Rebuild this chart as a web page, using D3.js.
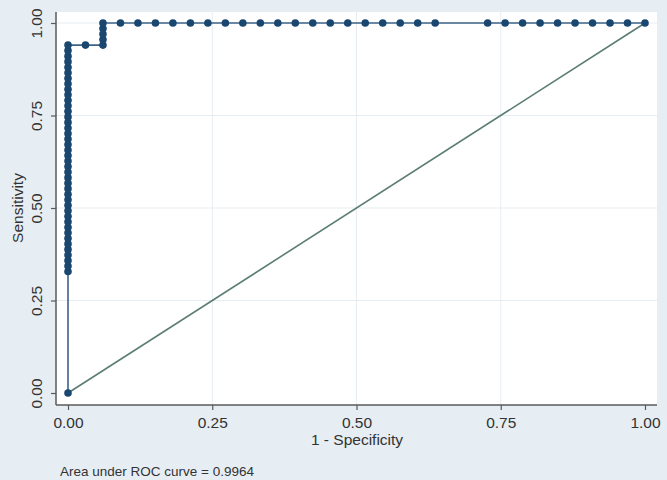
<!DOCTYPE html>
<html>
<head>
<meta charset="utf-8">
<script src="https://cdn.jsdelivr.net/npm/d3@7"></script>
<style>
  html, body { margin: 0; padding: 0; background: #e8eff4; }
  svg { display: block; }
  text { font-family: "Liberation Sans", Arial, sans-serif; }
</style>
</head>
<body>
<svg id="chart" width="667" height="480"></svg>
<script>
// ---- Data ----
// Counts of false positives (out of 33 negatives) and true positives (out of 67 positives) at each cutoff
const nNegatives = 33;
const nPositives = 67;
const falsePosCounts = [
  0,
  0,0,0,0,0,0,0,0,0,0,0,0,0,0,0,0,0,0,0,0,0,0,0,0,0,0,0,0,0,0,0,0,0,0,0,0,0,0,0,0,0,0,
  1,
  2,2,2,2,2,
  3,4,5,6,7,8,9,10,11,12,13,14,15,16,17,18,19,20,21,
  24,25,26,27,28,29,30,31,32,33
];
const truePosCounts = [
  0,
  22,23,24,25,26,27,28,29,30,31,32,33,34,35,36,37,38,39,40,41,42,43,44,45,46,47,48,49,50,51,52,53,54,55,56,57,58,59,60,61,62,63,
  63,
  63,64,65,66,67,
  67,67,67,67,67,67,67,67,67,67,67,67,67,67,67,67,67,67,67,
  67,67,67,67,67,67,67,67,67,67
];
const xTickValues = [0, 0.25, 0.5, 0.75, 1];
const yTickValues = [0, 0.25, 0.5, 0.75, 1];
const xTitle = "1 - Specificity";
const yTitle = "Sensitivity";
const noteText = "Area under ROC curve = 0.9964";

const points = falsePosCounts.map((fp, i) => ({
  x: fp / nNegatives,
  y: truePosCounts[i] / nPositives
}));

// ---- Layout ----
const svg = d3.select("#chart");
const W = 667, H = 480;
const plot = { left: 56, right: 657, top: 12, bottom: 405 };
const fontSize = 15.5;

const x = d3.scaleLinear().domain([0, 1]).range([68, 645]);
const y = d3.scaleLinear().domain([0, 1]).range([393, 23]);

// background
svg.append("rect").attr("width", W).attr("height", H).attr("fill", "#e6eef3");
svg.append("rect")
  .attr("x", plot.left).attr("y", plot.top)
  .attr("width", plot.right - plot.left).attr("height", plot.bottom - plot.top)
  .attr("fill", "#ffffff");

// grid lines
const gridColor = "#e6edf2";
svg.append("g").selectAll("line").data(xTickValues.filter(v => v > 0 && v < 1)).join("line")
  .attr("x1", d => x(d)).attr("x2", d => x(d))
  .attr("y1", plot.top).attr("y2", plot.bottom)
  .attr("stroke", gridColor).attr("stroke-width", 1);
svg.append("g").selectAll("line").data(yTickValues.filter(v => v > 0)).join("line")
  .attr("x1", plot.left).attr("x2", plot.right)
  .attr("y1", d => y(d)).attr("y2", d => y(d))
  .attr("stroke", gridColor).attr("stroke-width", 1);

// axes
const axisColor = "#5a5a5a";
const xAxis = d3.axisBottom(x).tickValues(xTickValues).tickFormat(d3.format(".2f"))
  .tickSize(5).tickSizeOuter(0);
const gx = svg.append("g").attr("transform", `translate(0,${plot.bottom})`).call(xAxis);
gx.select(".domain").remove();
gx.append("line").attr("x1", plot.left).attr("x2", plot.right).attr("y1", 0).attr("y2", 0)
  .attr("stroke", axisColor).attr("stroke-width", 1.5);
gx.selectAll(".tick line").attr("stroke", axisColor).attr("stroke-width", 1.2);
gx.selectAll(".tick text")
  .attr("font-size", fontSize).attr("fill", "#333").attr("font-family", "Liberation Sans, Arial, sans-serif")
  .attr("dy", null).attr("y", 22.5);

const yAxis = d3.axisLeft(y).tickValues(yTickValues).tickFormat(d3.format(".2f"))
  .tickSize(5).tickSizeOuter(0);
const gy = svg.append("g").attr("transform", `translate(${plot.left},0)`).call(yAxis);
gy.select(".domain").remove();
gy.append("line").attr("x1", 0).attr("x2", 0).attr("y1", plot.top).attr("y2", plot.bottom)
  .attr("stroke", axisColor).attr("stroke-width", 1.5);
gy.selectAll(".tick line").attr("stroke", axisColor).attr("stroke-width", 1.2);
gy.selectAll(".tick text")
  .attr("font-size", fontSize).attr("fill", "#333").attr("font-family", "Liberation Sans, Arial, sans-serif")
  .attr("x", null).attr("dy", null)
  .attr("transform", "translate(-14,0) rotate(-90)")
  .attr("text-anchor", "middle")
  .attr("y", 0);

// diagonal reference line
svg.append("line")
  .attr("x1", x(0)).attr("y1", y(0)).attr("x2", x(1)).attr("y2", y(1))
  .attr("stroke", "#5b7d72").attr("stroke-width", 1.6);

// ROC curve
const line = d3.line().x(d => x(d.x)).y(d => y(d.y));
svg.append("path").datum(points)
  .attr("d", line).attr("fill", "none")
  .attr("stroke", "#3e6388").attr("stroke-width", 1.6);

svg.append("g").selectAll("circle").data(points).join("circle")
  .attr("cx", d => x(d.x)).attr("cy", d => y(d.y)).attr("r", 3.8)
  .attr("fill", "#1a476f");

// titles
svg.append("text").attr("x", 357).attr("y", 445).attr("text-anchor", "middle")
  .attr("font-size", fontSize).attr("fill", "#333").text(xTitle);
svg.append("text").attr("transform", `translate(23,${y(0.5)}) rotate(-90)`)
  .attr("text-anchor", "middle").attr("font-size", fontSize).attr("fill", "#333").text(yTitle);
svg.append("text").attr("x", 60).attr("y", 476)
  .attr("font-size", 13.5).attr("fill", "#333").text(noteText);
</script>
</body>
</html>
